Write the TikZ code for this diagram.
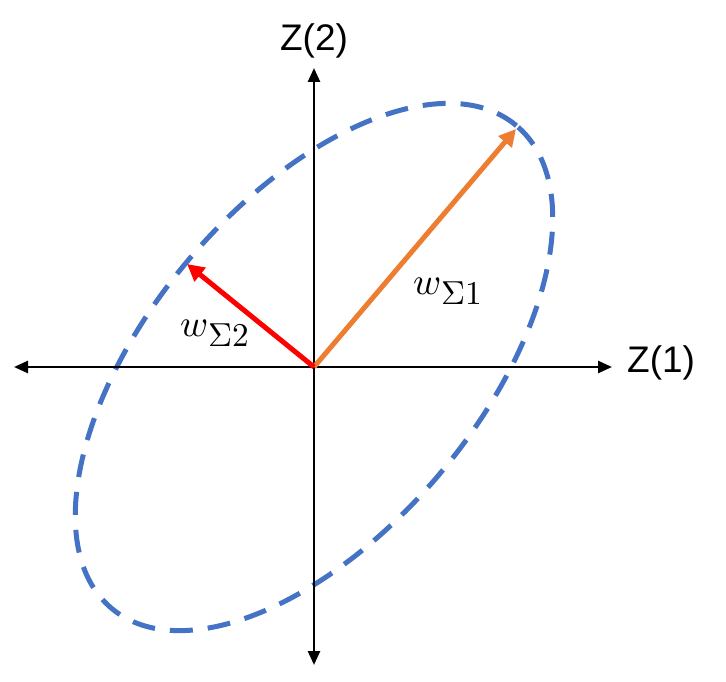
\documentclass[tikz,border=0pt]{standalone}
\usepackage{fontspec}
\usepackage{unicode-math}
\setmathfont{Latin Modern Math}
\setsansfont{Liberation Sans}
\usetikzlibrary{arrows.meta}
\definecolor{ellblue}{HTML}{4472C4}
\definecolor{vorange}{HTML}{ED7D31}
\definecolor{vred}{HTML}{FF0000}
\newcommand{\bigsub}[1]{\scalebox{1.25}{$\scriptstyle #1$}}
\tikzset{
  axis/.style={line width=2.6pt, {Triangle[length=14pt,width=12pt]}-{Triangle[length=14pt,width=12pt]}},
  vec/.style={line width=5pt, -{Triangle[length=17pt,width=17pt]}},
  axlabel/.style={font=\sffamily\fontsize{37}{40}\selectfont, inner sep=0pt},
  veclabel/.style={font=\fontsize{38}{42}\selectfont, inner sep=0pt},
  ell/.style={draw=ellblue, line width=5pt, dash pattern=on 23pt off 15pt}
}
\begin{document}
\begin{tikzpicture}[x=1pt,y=1pt]
\useasboundingbox (0,0) rectangle (726,681);
\coordinate (O) at (314,314);
\coordinate (L) at (14,314);
\coordinate (R) at (612,314);
\coordinate (T) at (314,613);
\coordinate (B) at (314,16);
\coordinate (P1) at (516,552);
\coordinate (P2) at (187,417);
\draw[ell, rotate around={50:(O)}] (O) ellipse [x radius=315, y radius=165];
\draw[axis] (L) -- (R);
\draw[axis] (B) -- (T);
\draw[vec, vorange] (O) -- (P1);
\draw[vec, vred] (O) -- (P2);
\node[axlabel] (z2) at (314,640) {Z(2)};
\node[axlabel, anchor=west] (z1) at (627,318) {Z(1)};
\node[veclabel] (w1) at (448,390) {$w_{\bigsub{\Sigma1}}$};
\node[veclabel] (w2) at (215,348) {$w_{\bigsub{\Sigma2}}$};
\end{tikzpicture}
\end{document}
